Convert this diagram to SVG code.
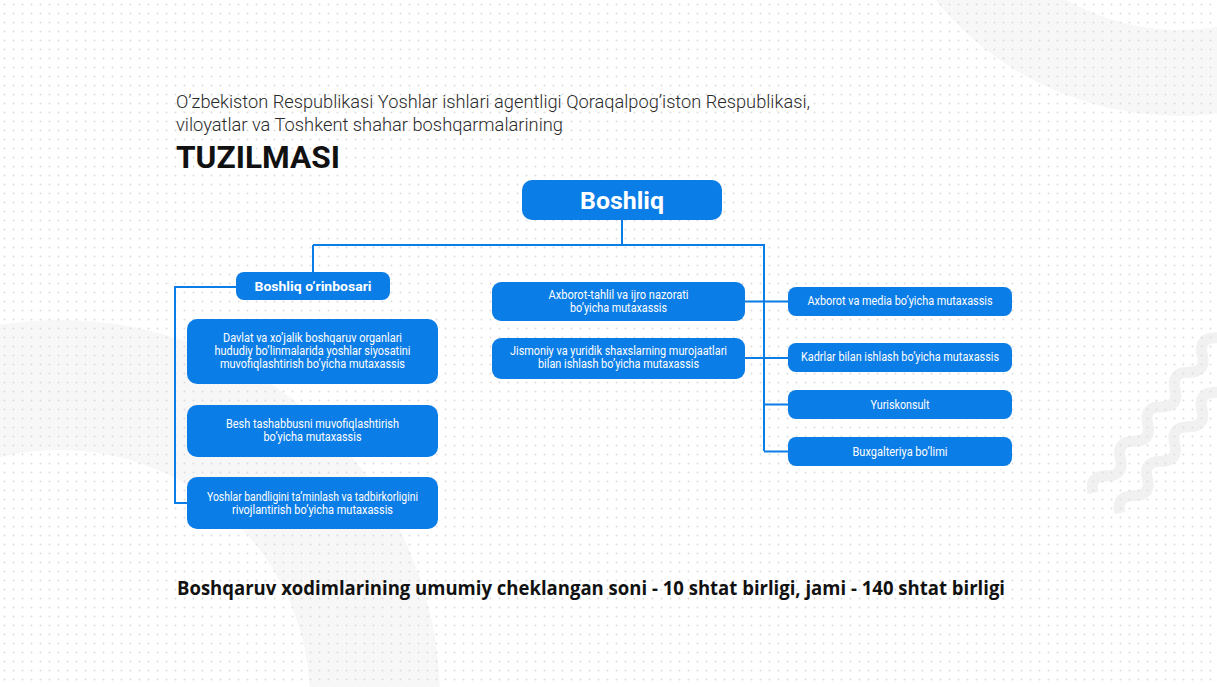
<svg xmlns="http://www.w3.org/2000/svg" width="1217" height="687" viewBox="0 0 1217 687">
<defs>
<pattern id="dots" width="9" height="9" patternUnits="userSpaceOnUse"><circle cx="4.5" cy="4.5" r="1" fill="#dcdcdc"/></pattern>
<style>
.box{fill:#0b7de6}
.t{font-family:Roboto,"Liberation Sans",sans-serif;fill:#fff;font-size:12px;text-anchor:middle}
.tb{font-family:Roboto,"Liberation Sans",sans-serif;fill:#fff;font-weight:bold;text-anchor:middle}
.hd{font-family:Roboto,"Liberation Sans",sans-serif;fill:#2a2a2a;font-size:19px;font-weight:300}
.ln{fill:none;stroke:#0b7de6;stroke-width:2}
.bg{fill:none;stroke:#f7f7f7}
.wv{fill:none;stroke:#f1f1f1;stroke-width:11}
</style>
</defs>
<rect width="1217" height="687" fill="#fff"/>
<g id="background">
<circle class="bg" cx="1180" cy="-200" r="273" stroke-width="86"/>
<circle class="bg" cx="60" cy="700" r="315" stroke-width="130"/>
<g transform="translate(1093,493) rotate(-51.6)"><path class="wv" d="M0 0 q11 -14 22 0 t22 0 t22 0 t22 0 t22 0 t22 0 t22 0 t22 0 t22 0 t22 0"/></g>
<g transform="translate(1120,513) rotate(-51.6)"><path class="wv" d="M0 0 q11 -14 22 0 t22 0 t22 0 t22 0 t22 0 t22 0 t22 0 t22 0 t22 0 t22 0"/></g>
<rect width="1217" height="687" fill="url(#dots)"/>
</g>
<g id="title">
<text class="hd" x="176" y="108" textLength="634" lengthAdjust="spacingAndGlyphs">O’zbekiston Respublikasi Yoshlar ishlari agentligi Qoraqalpog’iston Respublikasi,</text>
<text class="hd" x="176" y="131" textLength="387" lengthAdjust="spacingAndGlyphs">viloyatlar va Toshkent shahar boshqarmalarining</text>
<text x="176" y="168" font-family="Roboto,'Liberation Sans',sans-serif" font-weight="bold" font-size="31" fill="#111" textLength="164" lengthAdjust="spacingAndGlyphs">TUZILMASI</text>
</g>
<g id="connectors">
<path class="ln" d="M622 220V245M313 245H764V451M313 245V272M745 301.5H788M745 358H788M764 404.5H788M764 451.5H788"/>
<path class="ln" d="M236 287H175V503H187"/>
</g>
<g id="boshliq"><rect class="box" x="522" y="180" width="200" height="40" rx="10"/><text class="tb" x="622" y="209" font-size="24" textLength="84" lengthAdjust="spacingAndGlyphs">Boshliq</text></g>
<g id="orinbosar"><rect class="box" x="236" y="272" width="154" height="28" rx="8"/><text class="tb" x="313" y="291" font-size="13.5" textLength="117" lengthAdjust="spacingAndGlyphs">Boshliq o’rinbosari</text></g>
<g id="davlat"><rect class="box" x="187" y="319" width="251" height="65" rx="10"/>
<text class="t" x="312.5" y="342" textLength="179" lengthAdjust="spacingAndGlyphs">Davlat va xo’jalik boshqaruv organlari</text>
<text class="t" x="312.5" y="355" textLength="196" lengthAdjust="spacingAndGlyphs">hududiy bo’linmalarida yoshlar siyosatini</text>
<text class="t" x="312.5" y="368" textLength="185" lengthAdjust="spacingAndGlyphs">muvofiqlashtirish bo’yicha mutaxassis</text></g>
<g id="besh"><rect class="box" x="187" y="405" width="251" height="52" rx="10"/>
<text class="t" x="312.5" y="428" textLength="173" lengthAdjust="spacingAndGlyphs">Besh tashabbusni muvofiqlashtirish</text>
<text class="t" x="312.5" y="441" textLength="98" lengthAdjust="spacingAndGlyphs">bo’yicha mutaxassis</text></g>
<g id="yoshlar"><rect class="box" x="187" y="477" width="251" height="52" rx="10"/>
<text class="t" x="312.5" y="501" textLength="211" lengthAdjust="spacingAndGlyphs">Yoshlar bandligini ta’minlash va tadbirkorligini</text>
<text class="t" x="312.5" y="514" textLength="161" lengthAdjust="spacingAndGlyphs">rivojlantirish bo’yicha mutaxassis</text></g>
<g id="axborot-tahlil"><rect class="box" x="492" y="282" width="253" height="39" rx="9"/>
<text class="t" x="618.5" y="299" textLength="140" lengthAdjust="spacingAndGlyphs">Axborot-tahlil va ijro nazorati</text>
<text class="t" x="618.5" y="312" textLength="97" lengthAdjust="spacingAndGlyphs">bo’yicha mutaxassis</text></g>
<g id="jismoniy"><rect class="box" x="492" y="338" width="253" height="41" rx="9"/>
<text class="t" x="618.5" y="355" textLength="217" lengthAdjust="spacingAndGlyphs">Jismoniy va yuridik shaxslarning murojaatlari</text>
<text class="t" x="618.5" y="368" textLength="161" lengthAdjust="spacingAndGlyphs">bilan ishlash bo’yicha mutaxassis</text></g>
<g id="media"><rect class="box" x="788" y="287" width="224" height="29" rx="8"/><text class="t" x="900" y="305" textLength="185" lengthAdjust="spacingAndGlyphs">Axborot va media bo’yicha mutaxassis</text></g>
<g id="kadrlar"><rect class="box" x="788" y="343" width="224" height="29" rx="8"/><text class="t" x="900" y="361" textLength="198" lengthAdjust="spacingAndGlyphs">Kadrlar bilan ishlash bo’yicha mutaxassis</text></g>
<g id="yuriskonsult"><rect class="box" x="788" y="390" width="224" height="29" rx="8"/><text class="t" x="900" y="408.5" textLength="59" lengthAdjust="spacingAndGlyphs">Yuriskonsult</text></g>
<g id="buxgalteriya"><rect class="box" x="788" y="437" width="224" height="29" rx="8"/><text class="t" x="900" y="455.5" textLength="95" lengthAdjust="spacingAndGlyphs">Buxgalteriya bo’limi</text></g>
<g id="footer"><text x="177" y="595" font-family="'Open Sans',Roboto,'Liberation Sans',sans-serif" font-weight="bold" font-size="19" fill="#111" textLength="828" lengthAdjust="spacingAndGlyphs">Boshqaruv xodimlarining umumiy cheklangan soni - 10 shtat birligi, jami - 140 shtat birligi</text></g>
</svg>
